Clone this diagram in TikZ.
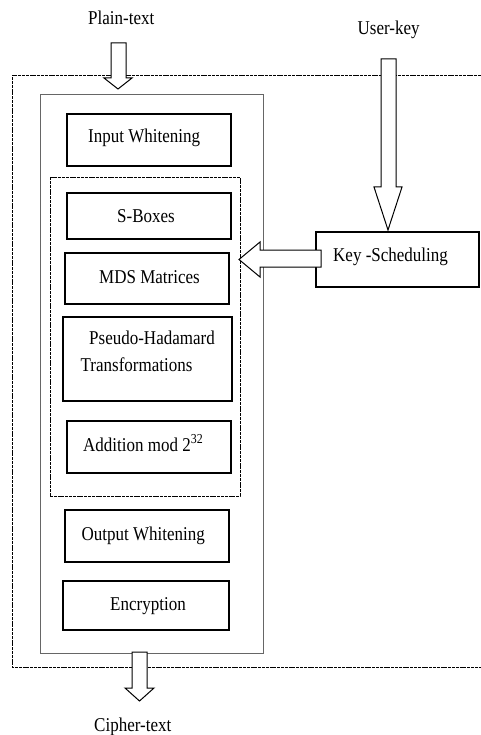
\documentclass[tikz,border=0pt]{standalone}
\usepackage{fontspec}
\usepackage{graphicx}
\setmainfont{Liberation Serif}
\newcommand{\vtx}[1]{\scalebox{1}[1.15]{#1}}
\begin{document}
\begin{tikzpicture}[x=1pt,y=-1pt,
  txt/.style={inner sep=0pt, anchor=base west, font=\fontsize{17}{28}\selectfont},
  blk/.style={draw, line width=1.3pt, inner sep=0pt},
  dashline/.style={line width=0.6pt, dash pattern=on 3pt off 0.8pt},
  barrow/.style={draw, fill=white, line width=1pt, line join=miter}]
\useasboundingbox (0,0) rectangle (481,735);
% outer dashed frame (open on the right)
\draw[dashline] (481,75) -- (12,75) -- (12,667) -- (481,667);
% inner solid frame
\node[draw=black!60, line width=1pt, minimum width=223pt, minimum height=558pt, inner sep=0pt] (core) at (151.5,374) {};
% dashed round frame
\node[dashline, draw, minimum width=190pt, minimum height=319pt, inner sep=0pt] (round) at (145,336.5) {};
% boxes
\node[blk, minimum width=164pt, minimum height=52pt] (iw) at (149,140) {};
\node[blk, minimum width=164pt, minimum height=46pt] (sb) at (149,216) {};
\node[blk, minimum width=164pt, minimum height=51pt] (mds) at (147,278.5) {};
\node[blk, minimum width=169pt, minimum height=84pt] (pht) at (147.5,359) {};
\node[blk, minimum width=164pt, minimum height=52pt] (add) at (149,447) {};
\node[blk, minimum width=164pt, minimum height=52pt] (ow) at (147,536) {};
\node[blk, minimum width=166pt, minimum height=49pt] (enc) at (146,605.5) {};
\node[blk, minimum width=163pt, minimum height=55pt] (ks) at (397.5,259.5) {};
% texts
\node[txt] (iwt) at (88,143) {\vtx{Input Whitening}};
\node[txt] (sbt) at (117,222.5) {\vtx{S-Boxes}};
\node[txt] (mdst) at (99,283) {\vtx{MDS Matrices}};
\node[txt] (pht1) at (89,344) {\vtx{Pseudo-Hadamard}};
\node[txt] (pht2) at (80.5,371.5) {\vtx{Transformations}};
\node[txt] (addt) at (83,451) {\vtx{Addition mod 2\textsuperscript{32}}};
\node[txt] (owt) at (81.5,540) {\vtx{Output Whitening}};
\node[txt] (enct) at (110,610) {\vtx{Encryption}};
\node[txt] (kst) at (333,261.5) {\vtx{Key -Scheduling}};
\node[txt] (pt) at (88,25) {\vtx{Plain-text}};
\node[txt] (uk) at (357.5,35) {\vtx{User-key}};
\node[txt] (ct) at (94,731) {\vtx{Cipher-text}};
% block arrows
\draw[barrow] (111,43) -- (126,43) -- (126,78) -- (132,78) -- (118,89) -- (104,78) -- (111,78) -- cycle;
\draw[barrow] (381,59) -- (396,59) -- (396,187) -- (402,187) -- (388,230) -- (374,187) -- (381,187) -- cycle;
\draw[barrow] (321,250) -- (260,250) -- (260,242) -- (239,259.5) -- (260,277) -- (260,267) -- (321,267) -- cycle;
\draw[barrow] (132,652) -- (147,652) -- (147,688) -- (154,688) -- (139.5,701) -- (125,688) -- (132,688) -- cycle;
\end{tikzpicture}
\end{document}
